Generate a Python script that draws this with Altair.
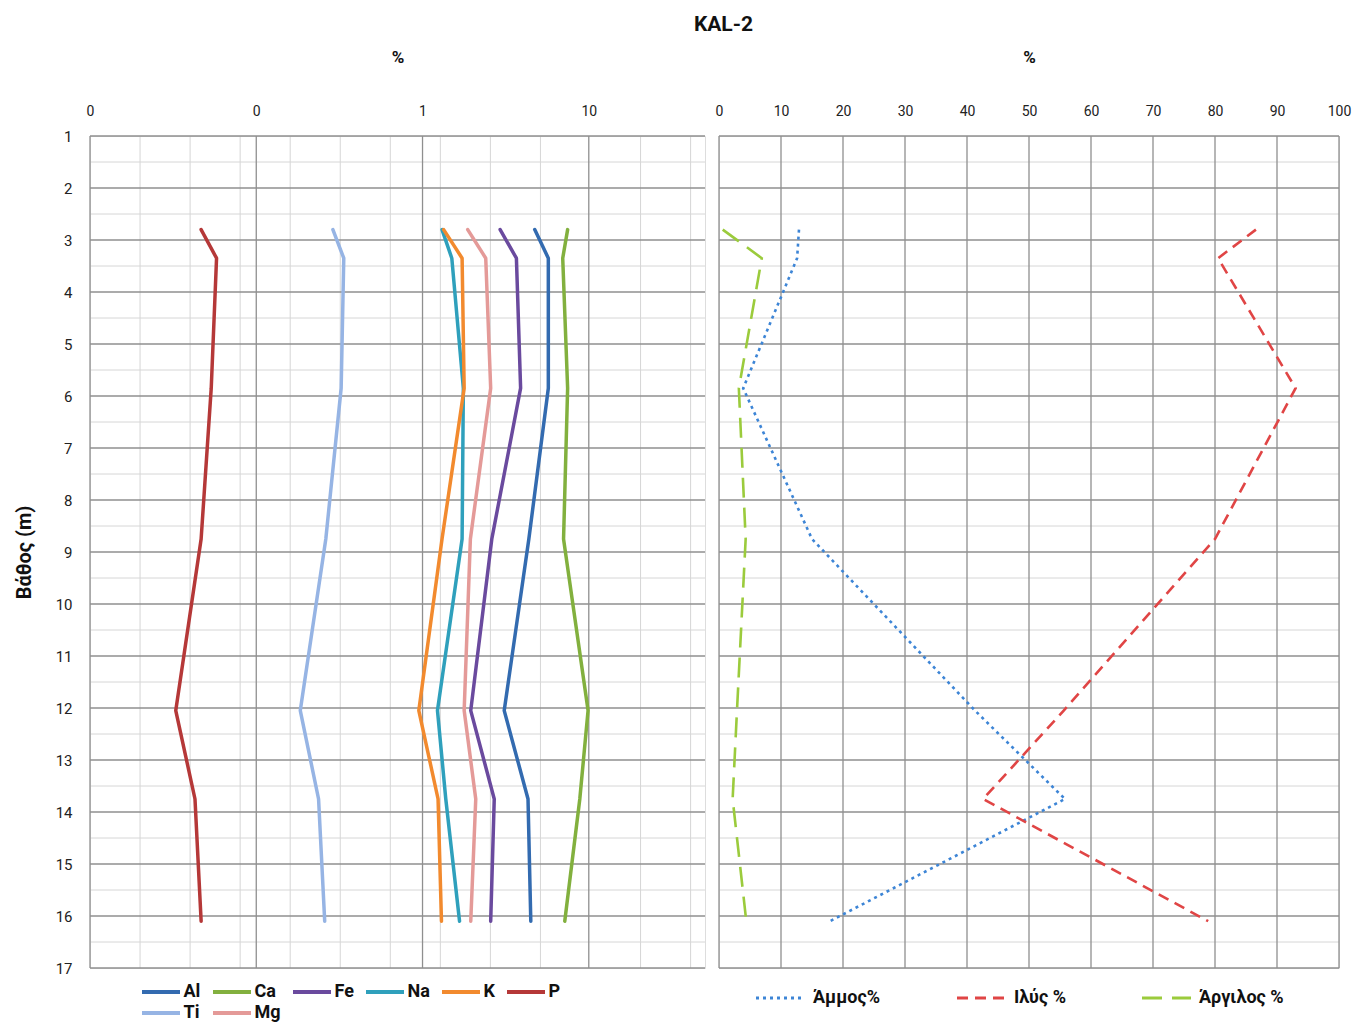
import altair as alt
import pandas as pd

# ---------------- data ----------------
depth = [2.8, 3.35, 5.85, 8.75, 12.05, 13.75, 16.1]

elements = ["Al", "Ca", "Fe", "Na", "K", "P", "Ti", "Mg"]
al = [4.73, 5.71, 5.71, 4.36, 3.10, 4.31, 4.48]
ca = [7.46, 6.97, 7.46, 7.05, 9.90, 8.83, 7.17]
fe = [2.93, 3.67, 3.89, 2.61, 1.95, 2.70, 2.57]
na = [1.31, 1.50, 1.76, 1.73, 1.23, 1.38, 1.67]
k = [1.34, 1.73, 1.78, 1.31, 0.95, 1.24, 1.30]
p = [0.0466, 0.0577, 0.0536, 0.0466, 0.0328, 0.0428, 0.0466]
ti = [0.289, 0.336, 0.324, 0.262, 0.184, 0.237, 0.258]
mg = [1.87, 2.40, 2.57, 1.94, 1.78, 2.09, 1.95]
element_values = [al, ca, fe, na, k, p, ti, mg]
element_colors = ["#336BB0", "#82B03E", "#6A4A9E", "#2FA0BC",
                  "#F28A2E", "#B53838", "#96B4E4", "#E49A98"]

grain_names = ["Άμμος%", "Ιλύς %", "Άργιλος %"]
sand = [12.9, 12.6, 3.9, 15.0, 41.3, 55.8, 17.9]
silt = [86.6, 80.5, 93.0, 80.0, 55.6, 42.6, 78.9]
clay = [0.6, 6.9, 3.2, 4.3, 2.9, 2.2, 4.4]
grain_values = [sand, silt, clay]
grain_colors = ["#3D85D6", "#E04545", "#9BCB3C"]
grain_dash = [[3, 4], [11, 7], [20, 10]]

depth_ticks = [1, 2, 3, 4, 5, 6, 7, 8, 9, 10, 11, 12, 13, 14, 15, 16, 17]
depth_half = [1.5, 2.5, 3.5, 4.5, 5.5, 6.5, 7.5, 8.5, 9.5, 10.5,
              11.5, 12.5, 13.5, 14.5, 15.5, 16.5]
left_major = [0.01, 0.1, 1, 10]
left_minor = [0.02, 0.04, 0.08, 0.16, 0.32, 0.64, 1.28, 2.56, 5.12, 20.48, 40.96]
right_ticks = [0, 10, 20, 30, 40, 50, 60, 70, 80, 90, 100]

# ---------------- tables ----------------
rows = []
for name, vals in zip(elements, element_values):
    for i, (d, v) in enumerate(zip(depth, vals)):
        rows.append({"element": name, "depth": d, "value": v, "idx": i})
df_el = pd.DataFrame(rows)

rows = []
for name, vals in zip(grain_names, grain_values):
    for i, (d, v) in enumerate(zip(depth, vals)):
        rows.append({"series": name, "depth": d, "value": v, "idx": i})
df_gr = pd.DataFrame(rows)

FONT = "Roboto"
MAJOR = "#8f8f8f"
MINOR = "#d6d6d6"
W_L, W_R, H = 615, 620, 832

yscale = alt.Scale(domain=[1, 17], reverse=True, nice=False, zero=False)
xl = alt.Scale(type="log", domain=[0.01, 50], nice=False)
xr = alt.Scale(domain=[0, 100], nice=False, zero=False)

top_axis_common = dict(orient="top", grid=False, domain=False, ticks=False, tickSize=0,
                       labelFlush=False, labelFontSize=14, labelColor="#222", labelFont=FONT,
                       labelPadding=18, title="%", titleFontSize=17, titleFontWeight="bold",
                       titleFont=FONT, titleColor="#111", titlePadding=38)
X_L_AXIS = alt.Axis(values=left_major, format=".0f", **top_axis_common)
X_R_AXIS = alt.Axis(values=right_ticks, format="d", **top_axis_common)
Y_AXIS = alt.Axis(values=depth_ticks, format="d", grid=False, domain=False, ticks=False,
                  tickSize=0, labelFontSize=15, labelColor="#222", labelFont=FONT,
                  labelPadding=18, title="Βάθος (m)", titleFontSize=20,
                  titleFontWeight="bold", titleFont=FONT, titleColor="#111",
                  titlePadding=21)


def vrules(vals, scale, xaxis, color, sw=1.0):
    return alt.Chart(pd.DataFrame({"value": vals})).mark_rule(color=color, strokeWidth=sw).encode(
        x=alt.X("value:Q", scale=scale, axis=xaxis))


def hrules(vals, yaxis, color, sw=1.0):
    return alt.Chart(pd.DataFrame({"depth": vals})).mark_rule(color=color, strokeWidth=sw).encode(
        y=alt.Y("depth:Q", scale=yscale, axis=yaxis))


left_legend = alt.Legend(title=None, orient="none", legendX=48, legendY=847,
                         direction="horizontal", columns=6, symbolType="M-1,0H6.6",
                         symbolSize=100, symbolStrokeWidth=4,
                         labelFontSize=18, labelFontWeight="bold", labelFont=FONT,
                         labelColor="#111", labelOffset=27.5, columnPadding=4,
                         rowPadding=3)

left_lines = alt.Chart(df_el).mark_line(strokeWidth=3.5, strokeJoin="round", strokeCap="round").encode(
    x=alt.X("value:Q", scale=xl, axis=X_L_AXIS),
    y=alt.Y("depth:Q", scale=yscale, axis=Y_AXIS),
    color=alt.Color("element:N", scale=alt.Scale(domain=elements, range=element_colors),
                    legend=left_legend),
    order=alt.Order("idx:Q"),
)

left = alt.layer(
    vrules(left_minor, xl, X_L_AXIS, MINOR),
    hrules(depth_half, Y_AXIS, MINOR),
    vrules(left_major, xl, X_L_AXIS, MAJOR, 1.3),
    hrules(depth_ticks, Y_AXIS, MAJOR, 1.3),
    left_lines,
).properties(width=W_L, height=H)

grain_legend = alt.Legend(title=None, orient="none", legendX=33, legendY=853,
                          direction="horizontal", columns=3, symbolType="M-1,0H8.8",
                          symbolSize=100, symbolStrokeWidth=3,
                          labelFontSize=18, labelFontWeight="bold", labelFont=FONT,
                          labelColor="#111", labelOffset=43, columnPadding=70)

right_lines = alt.Chart(df_gr).mark_line(strokeWidth=2.6).encode(
    x=alt.X("value:Q", scale=xr, axis=X_R_AXIS),
    y=alt.Y("depth:Q", scale=yscale, axis=None),
    color=alt.Color("series:N", scale=alt.Scale(domain=grain_names, range=grain_colors),
                    legend=grain_legend),
    strokeDash=alt.StrokeDash("series:N", scale=alt.Scale(domain=grain_names, range=grain_dash),
                              legend=grain_legend),
    order=alt.Order("idx:Q"),
)

right = alt.layer(
    hrules(depth_half, None, MINOR),
    vrules(right_ticks, xr, X_R_AXIS, MAJOR, 1.3),
    hrules(depth_ticks, None, MAJOR, 1.3),
    right_lines,
).properties(width=W_R, height=H)

chart = alt.hconcat(left, right, spacing=14, bounds="flush").resolve_scale(
    color="independent", strokeDash="independent"
).resolve_legend(
    color="independent", strokeDash="independent"
).properties(
    title=alt.TitleParams("KAL-2", fontSize=21, fontWeight="bold", font=FONT, color="#111",
                          anchor="middle", offset=13, dx=41),
    padding={"left": 5, "top": 5, "right": 0, "bottom": 0},
).configure_view(stroke=MAJOR, strokeWidth=1.3).configure(background="white")

chart.save("out.html", embed_options={"renderer": "svg", "actions": False})
